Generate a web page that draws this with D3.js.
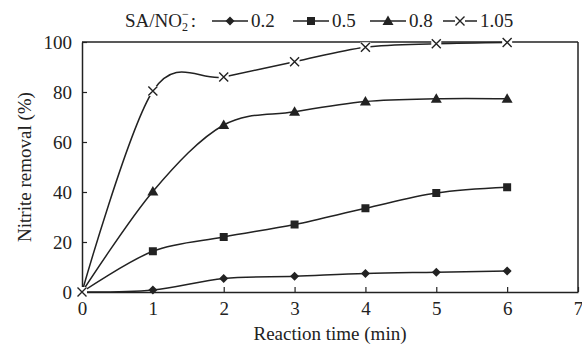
<!DOCTYPE html>
<html>
<head>
<meta charset="utf-8">
<script src="https://cdn.jsdelivr.net/npm/d3@7"></script>
<style>
  body { margin: 0; background: #fff; }
  #plot, #plot text { font-family: 'Liberation Serif', 'Times New Roman', Times, 'DejaVu Serif', serif !important; }
</style>
</head>
<body>
<svg id="plot" width="582" height="345" font-family="Liberation Serif, Times New Roman, DejaVu Serif, serif"></svg>
<script>
const times = [0, 1, 2, 3, 4, 5, 6];
const ratios = ['0.2', '0.5', '0.8', '1.05'];
const removal02 = [0, 0.8, 5.4, 6.3, 7.4, 7.9, 8.4];
const removal05 = [0, 16.3, 22, 27, 33.5, 39.6, 41.9];
const removal08 = [0, 40.2, 66.8, 72.1, 76.2, 77.3, 77.3];
const removal105 = [0, 80.4, 86, 92.1, 97.9, 99.3, 99.8];
const markers = ['diamond', 'square', 'triangle', 'cross'];

const xTicks = [0, 1, 2, 3, 4, 5, 6, 7];
const yTicks = [0, 20, 40, 60, 80, 100];

const series = [removal02, removal05, removal08, removal105].map((vals, i) => ({
  name: ratios[i],
  marker: markers[i],
  points: vals.map((v, j) => ({ t: times[j], v }))
}));

const svg = d3.select('#plot');
const margin = { top: 42, right: 4, bottom: 53, left: 82 };
const width = +svg.attr('width');
const height = +svg.attr('height');
const innerWidth = width - margin.left - margin.right;
const innerHeight = height - margin.top - margin.bottom;
const ink = '#222';
const fontSize = 19;
const serif = 'Liberation Serif, Times New Roman, DejaVu Serif, serif';

const g = svg.append('g')
  .attr('transform', `translate(${margin.left}, ${margin.top})`);

const xScale = d3.scaleLinear().domain([0, 7]).range([0, innerWidth]);
const yScale = d3.scaleLinear().domain([0, 100]).range([innerHeight, 0]);

const axisStyle = (AxisG) => {
  AxisG.attr('font-family', serif);
  AxisG.selectAll('.domain').attr('stroke', ink).attr('stroke-width', 1.5);
  AxisG.selectAll('line').attr('stroke', ink).attr('stroke-width', 1.2);
  AxisG.selectAll('text')
    .attr('font-size', fontSize)
    .attr('fill', ink);
};

// x axis, ticks point inward
const xAxis = d3.axisBottom(xScale)
  .tickValues(xTicks)
  .tickSizeInner(-5)
  .tickSizeOuter(0)
  .tickPadding(10)
  .tickFormat(d3.format('d'));
g.append('g')
  .attr('class', 'x-axis')
  .attr('transform', `translate(0, ${innerHeight})`)
  .call(xAxis)
  .call(axisStyle);

const yAxis = d3.axisLeft(yScale)
  .tickValues(yTicks)
  .tickSizeInner(-5)
  .tickSizeOuter(0)
  .tickPadding(10)
  .tickFormat(d3.format('d'));
g.append('g')
  .attr('class', 'y-axis')
  .call(yAxis)
  .call(axisStyle);

// top and right borders of the frame
g.append('line')
  .attr('x1', 0).attr('x2', innerWidth)
  .attr('y1', 0).attr('y2', 0)
  .attr('stroke', ink).attr('stroke-width', 1.5);
g.append('line')
  .attr('x1', innerWidth).attr('x2', innerWidth)
  .attr('y1', 0).attr('y2', innerHeight)
  .attr('stroke', ink).attr('stroke-width', 1.5);

// axis titles
svg.append('text')
  .attr('x', margin.left + xScale(3.5))
  .attr('y', 340)
  .attr('text-anchor', 'middle')
  .attr('font-size', fontSize)
  .attr('fill', ink)
  .text('Reaction time (min)');

svg.append('text')
  .attr('transform', `translate(31, ${margin.top + innerHeight / 2}) rotate(-90)`)
  .attr('text-anchor', 'middle')
  .attr('font-size', fontSize)
  .attr('fill', ink)
  .text('Nitrite removal (%)');

const drawMarker = (sel, type) => {
  if (type === 'diamond') {
    sel.append('path').attr('d', 'M0,-4.5L4.5,0L0,4.5L-4.5,0Z').attr('fill', ink);
  } else if (type === 'square') {
    sel.append('rect').attr('x', -4).attr('y', -4).attr('width', 8).attr('height', 8).attr('fill', ink);
  } else if (type === 'triangle') {
    sel.append('path').attr('d', 'M0,-5.5L5.5,4L-5.5,4Z').attr('fill', ink);
  } else {
    sel.append('path').attr('d', 'M-4.5,-4.5L4.5,4.5M-4.5,4.5L4.5,-4.5')
      .attr('stroke', ink).attr('stroke-width', 1.4).attr('fill', 'none');
  }
};

const line = d3.line()
  .x(d => xScale(d.t))
  .y(d => yScale(d.v))
  .curve(d3.curveCatmullRom.alpha(0));

series.forEach(s => {
  g.append('path')
    .datum(s.points)
    .attr('fill', 'none')
    .attr('stroke', ink)
    .attr('stroke-width', 1.5)
    .attr('d', line);
});

series.forEach((s, i) => {
  // only the last series shows its marker at the origin
  const pts = s.points.filter(d => d.t > 0 || i === series.length - 1);
  g.selectAll(`.m${i}`).data(pts).enter().append('g')
    .attr('class', `m${i}`)
    .attr('transform', d => `translate(${xScale(d.t)}, ${yScale(d.v)})`)
    .each(function () {
      const m = d3.select(this);
      if (s.marker === 'cross') {
        m.append('rect').attr('x', -5).attr('y', -5).attr('width', 10).attr('height', 10).attr('fill', '#fff');
      }
      drawMarker(m, s.marker);
    });
});

// legend
const legend = svg.append('g').attr('transform', 'translate(0, 27)');
const lt = legend.append('text')
  .attr('x', 125)
  .attr('y', 0)
  .attr('font-size', fontSize)
  .attr('fill', ink);
lt.append('tspan').text('SA/NO');
lt.append('tspan').attr('font-size', 12).attr('dy', 4).text('2');
lt.append('tspan').attr('font-size', 12).attr('dx', -6).attr('dy', -13).text('\u2212');
lt.append('tspan').attr('dy', 9).attr('dx', 2).text(':');

const legendX = [212, 293, 370, 443];
const legendLine = [36, 36, 36, 34];
series.forEach((s, i) => {
  const item = legend.append('g').attr('transform', `translate(${legendX[i]}, -6)`);
  item.append('line')
    .attr('x1', 0).attr('x2', legendLine[i])
    .attr('stroke', ink).attr('stroke-width', 1.5);
  const m = item.append('g').attr('transform', `translate(${legendLine[i] / 2}, 0)`);
  if (s.marker === 'cross') {
    m.append('rect').attr('x', -5).attr('y', -5).attr('width', 10).attr('height', 10).attr('fill', '#fff');
  }
  drawMarker(m, s.marker);
  item.append('text')
    .attr('x', legendLine[i] + 3)
    .attr('y', 6)
    .attr('font-size', fontSize)
    .attr('fill', ink)
    .text(s.name);
});
</script>
</body>
</html>
